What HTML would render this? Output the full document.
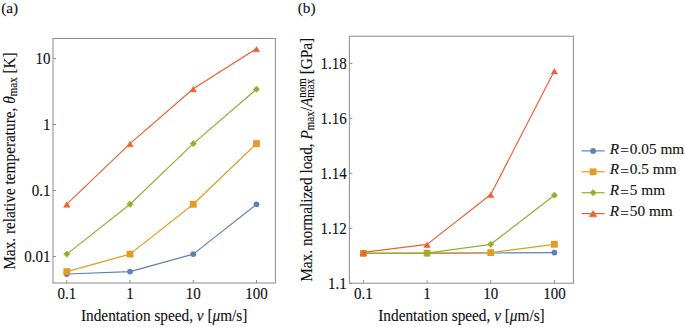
<!DOCTYPE html>
<html><head><meta charset="utf-8"><style>
html,body{margin:0;padding:0;background:#fff;}
svg{display:block;}
.t{font-family:"Liberation Serif",serif;font-size:15px;fill:#111;stroke:#111;stroke-width:0.12px;}
.al{font-family:"Liberation Serif",serif;font-size:15.3px;fill:#111;stroke:#111;stroke-width:0.12px;}
.lg{font-family:"Liberation Serif",serif;font-size:15.3px;fill:#111;stroke:#111;stroke-width:0.12px;}
.ss{font-size:11px;}
</style></head><body>
<svg width="685" height="327" viewBox="0 0 685 327">
<rect x="53" y="38.5" width="222.39999999999998" height="244.5" fill="none" stroke="#8c8c8c" stroke-width="1"/><rect x="349.4" y="36.2" width="224.0" height="247.0" fill="none" stroke="#8c8c8c" stroke-width="1"/><line x1="66.80" y1="283" x2="66.80" y2="280" stroke="#8c8c8c"/><text transform="translate(66.80 299) scale(1 1.08)" text-anchor="middle" class="t">0.1</text><line x1="363.40" y1="283.2" x2="363.40" y2="280.2" stroke="#8c8c8c"/><text transform="translate(363.40 299) scale(1 1.08)" text-anchor="middle" class="t">0.1</text><line x1="130.03" y1="283" x2="130.03" y2="280" stroke="#8c8c8c"/><text transform="translate(130.03 299) scale(1 1.08)" text-anchor="middle" class="t">1</text><line x1="427.07" y1="283.2" x2="427.07" y2="280.2" stroke="#8c8c8c"/><text transform="translate(427.07 299) scale(1 1.08)" text-anchor="middle" class="t">1</text><line x1="193.26" y1="283" x2="193.26" y2="280" stroke="#8c8c8c"/><text transform="translate(193.26 299) scale(1 1.08)" text-anchor="middle" class="t">10</text><line x1="490.74" y1="283.2" x2="490.74" y2="280.2" stroke="#8c8c8c"/><text transform="translate(490.74 299) scale(1 1.08)" text-anchor="middle" class="t">10</text><line x1="256.49" y1="283" x2="256.49" y2="280" stroke="#8c8c8c"/><text transform="translate(256.49 299) scale(1 1.08)" text-anchor="middle" class="t">100</text><line x1="554.41" y1="283.2" x2="554.41" y2="280.2" stroke="#8c8c8c"/><text transform="translate(554.41 299) scale(1 1.08)" text-anchor="middle" class="t">100</text><line x1="53" y1="256.60" x2="56" y2="256.60" stroke="#8c8c8c"/><text transform="translate(50.4 261.95) scale(1 1.08)" text-anchor="end" class="t">0.01</text><line x1="53" y1="190.55" x2="56" y2="190.55" stroke="#8c8c8c"/><text transform="translate(50.4 195.90) scale(1 1.08)" text-anchor="end" class="t">0.1</text><line x1="53" y1="124.50" x2="56" y2="124.50" stroke="#8c8c8c"/><text transform="translate(50.4 129.85) scale(1 1.08)" text-anchor="end" class="t">1</text><line x1="53" y1="58.45" x2="56" y2="58.45" stroke="#8c8c8c"/><text transform="translate(50.4 63.80) scale(1 1.08)" text-anchor="end" class="t">10</text><line x1="349.4" y1="283.35" x2="352.4" y2="283.35" stroke="#8c8c8c"/><text transform="translate(346.79999999999995 288.70) scale(1 1.08)" text-anchor="end" class="t">1.1</text><line x1="349.4" y1="228.35" x2="352.4" y2="228.35" stroke="#8c8c8c"/><text transform="translate(346.79999999999995 233.70) scale(1 1.08)" text-anchor="end" class="t">1.12</text><line x1="349.4" y1="173.35" x2="352.4" y2="173.35" stroke="#8c8c8c"/><text transform="translate(346.79999999999995 178.70) scale(1 1.08)" text-anchor="end" class="t">1.14</text><line x1="349.4" y1="118.35" x2="352.4" y2="118.35" stroke="#8c8c8c"/><text transform="translate(346.79999999999995 123.70) scale(1 1.08)" text-anchor="end" class="t">1.16</text><line x1="349.4" y1="63.35" x2="352.4" y2="63.35" stroke="#8c8c8c"/><text transform="translate(346.79999999999995 68.70) scale(1 1.08)" text-anchor="end" class="t">1.18</text><path d="M66.80 274.00 L130.03 271.60 L193.26 254.10 L256.49 204.30" fill="none" stroke="#5E81B5" stroke-width="1.2" stroke-linejoin="round"/>
<circle cx="66.80" cy="274.00" r="2.9" fill="#5E81B5"/>
<circle cx="130.03" cy="271.60" r="2.9" fill="#5E81B5"/>
<circle cx="193.26" cy="254.10" r="2.9" fill="#5E81B5"/>
<circle cx="256.49" cy="204.30" r="2.9" fill="#5E81B5"/>
<path d="M66.80 271.60 L130.03 254.10 L193.26 204.30 L256.49 143.60" fill="none" stroke="#E19C24" stroke-width="1.2" stroke-linejoin="round"/>
<rect x="63.40" y="268.20" width="6.80" height="6.80" fill="#E19C24"/>
<rect x="126.63" y="250.70" width="6.80" height="6.80" fill="#E19C24"/>
<rect x="189.86" y="200.90" width="6.80" height="6.80" fill="#E19C24"/>
<rect x="253.09" y="140.20" width="6.80" height="6.80" fill="#E19C24"/>
<path d="M66.80 254.10 L130.03 204.30 L193.26 143.60 L256.49 89.20" fill="none" stroke="#8FB032" stroke-width="1.2" stroke-linejoin="round"/>
<path d="M66.80 250.95L69.95 254.10L66.80 257.25L63.65 254.10Z" fill="#8FB032" stroke="#8FB032" stroke-width="0.6" stroke-linejoin="round"/>
<path d="M130.03 201.15L133.18 204.30L130.03 207.45L126.88 204.30Z" fill="#8FB032" stroke="#8FB032" stroke-width="0.6" stroke-linejoin="round"/>
<path d="M193.26 140.45L196.41 143.60L193.26 146.75L190.11 143.60Z" fill="#8FB032" stroke="#8FB032" stroke-width="0.6" stroke-linejoin="round"/>
<path d="M256.49 86.05L259.64 89.20L256.49 92.35L253.34 89.20Z" fill="#8FB032" stroke="#8FB032" stroke-width="0.6" stroke-linejoin="round"/>
<path d="M66.80 204.10 L130.03 143.60 L193.26 88.80 L256.49 48.70" fill="none" stroke="#EB6235" stroke-width="1.2" stroke-linejoin="round"/>
<path d="M66.80 201.80L70.05 207.20L63.55 207.20Z" fill="#EB6235" stroke="#EB6235" stroke-width="0.5" stroke-linejoin="round"/>
<path d="M130.03 141.30L133.28 146.70L126.78 146.70Z" fill="#EB6235" stroke="#EB6235" stroke-width="0.5" stroke-linejoin="round"/>
<path d="M193.26 86.50L196.51 91.90L190.01 91.90Z" fill="#EB6235" stroke="#EB6235" stroke-width="0.5" stroke-linejoin="round"/>
<path d="M256.49 46.40L259.74 51.80L253.24 51.80Z" fill="#EB6235" stroke="#EB6235" stroke-width="0.5" stroke-linejoin="round"/>
<path d="M363.40 253.40 L427.07 253.40 L490.74 253.00 L554.41 252.60" fill="none" stroke="#5E81B5" stroke-width="1.2" stroke-linejoin="round"/>
<circle cx="363.40" cy="253.40" r="2.9" fill="#5E81B5"/>
<circle cx="427.07" cy="253.40" r="2.9" fill="#5E81B5"/>
<circle cx="490.74" cy="253.00" r="2.9" fill="#5E81B5"/>
<circle cx="554.41" cy="252.60" r="2.9" fill="#5E81B5"/>
<path d="M363.40 253.40 L427.07 253.20 L490.74 252.60 L554.41 244.30" fill="none" stroke="#E19C24" stroke-width="1.2" stroke-linejoin="round"/>
<rect x="360.00" y="250.00" width="6.80" height="6.80" fill="#E19C24"/>
<rect x="423.67" y="249.80" width="6.80" height="6.80" fill="#E19C24"/>
<rect x="487.34" y="249.20" width="6.80" height="6.80" fill="#E19C24"/>
<rect x="551.01" y="240.90" width="6.80" height="6.80" fill="#E19C24"/>
<path d="M363.40 253.40 L427.07 253.20 L490.74 244.30 L554.41 195.20" fill="none" stroke="#8FB032" stroke-width="1.2" stroke-linejoin="round"/>
<path d="M363.40 250.25L366.55 253.40L363.40 256.55L360.25 253.40Z" fill="#8FB032" stroke="#8FB032" stroke-width="0.6" stroke-linejoin="round"/>
<path d="M427.07 250.05L430.22 253.20L427.07 256.35L423.92 253.20Z" fill="#8FB032" stroke="#8FB032" stroke-width="0.6" stroke-linejoin="round"/>
<path d="M490.74 241.15L493.89 244.30L490.74 247.45L487.59 244.30Z" fill="#8FB032" stroke="#8FB032" stroke-width="0.6" stroke-linejoin="round"/>
<path d="M554.41 192.05L557.56 195.20L554.41 198.35L551.26 195.20Z" fill="#8FB032" stroke="#8FB032" stroke-width="0.6" stroke-linejoin="round"/>
<path d="M363.40 252.40 L427.07 244.40 L490.74 194.50 L554.41 70.80" fill="none" stroke="#EB6235" stroke-width="1.2" stroke-linejoin="round"/>
<path d="M363.40 250.10L366.65 255.50L360.15 255.50Z" fill="#EB6235" stroke="#EB6235" stroke-width="0.5" stroke-linejoin="round"/>
<path d="M427.07 242.10L430.32 247.50L423.82 247.50Z" fill="#EB6235" stroke="#EB6235" stroke-width="0.5" stroke-linejoin="round"/>
<path d="M490.74 192.20L493.99 197.60L487.49 197.60Z" fill="#EB6235" stroke="#EB6235" stroke-width="0.5" stroke-linejoin="round"/>
<path d="M554.41 68.50L557.66 73.90L551.16 73.90Z" fill="#EB6235" stroke="#EB6235" stroke-width="0.5" stroke-linejoin="round"/>
<text transform="translate(164.2 320.5) scale(1 1.05)" text-anchor="middle" class="al">Indentation speed, <tspan font-style="italic">v</tspan> [<tspan font-style="italic">&#956;</tspan>m/s]</text><text transform="translate(461.5 320.5) scale(1 1.05)" text-anchor="middle" class="al">Indentation speed, <tspan font-style="italic">v</tspan> [<tspan font-style="italic">&#956;</tspan>m/s]</text><text transform="translate(14.6 161.0) rotate(-90) scale(1 1.05)" text-anchor="middle" class="al">Max. relative temperature, <tspan font-style="italic">&#952;</tspan><tspan class="ss" dy="2.2">max</tspan><tspan dy="-2.2"> [K]</tspan></text><text transform="translate(311.5 159.8) rotate(-90) scale(1 1.05)" text-anchor="middle" class="al">Max. normalized load, <tspan font-style="italic">P</tspan><tspan class="ss" dy="2.2">max</tspan><tspan dy="-2.2">/</tspan><tspan font-style="italic">A</tspan><tspan class="ss" dy="-5.6">nom</tspan><tspan class="ss" dx="-19.6" dy="8.2">max</tspan><tspan dy="-2.6" dx="0.7"> [GPa]</tspan></text><text x="1.2" y="13.1" class="al">(a)</text><text x="297.7" y="13.1" class="al">(b)</text><line x1="581.6" y1="150.90" x2="604.7" y2="150.90" stroke="#5E81B5" stroke-width="1.2"/><circle cx="593.10" cy="150.90" r="2.9" fill="#5E81B5"/><text x="609.8" y="153.50" class="lg"><tspan font-style="italic">R</tspan><tspan dx="1" dy="1.4">=</tspan><tspan dx="1" dy="-1.4">0.05 mm</tspan></text><line x1="581.6" y1="171.80" x2="604.7" y2="171.80" stroke="#E19C24" stroke-width="1.2"/><rect x="589.70" y="168.40" width="6.80" height="6.80" fill="#E19C24"/><text x="609.8" y="174.40" class="lg"><tspan font-style="italic">R</tspan><tspan dx="1" dy="1.4">=</tspan><tspan dx="1" dy="-1.4">0.5 mm</tspan></text><line x1="581.6" y1="192.70" x2="604.7" y2="192.70" stroke="#8FB032" stroke-width="1.2"/><path d="M593.10 189.55L596.25 192.70L593.10 195.85L589.95 192.70Z" fill="#8FB032" stroke="#8FB032" stroke-width="0.6" stroke-linejoin="round"/><text x="609.8" y="195.30" class="lg"><tspan font-style="italic">R</tspan><tspan dx="1" dy="1.4">=</tspan><tspan dx="1" dy="-1.4">5 mm</tspan></text><line x1="581.6" y1="213.60" x2="604.7" y2="213.60" stroke="#EB6235" stroke-width="1.2"/><path d="M593.10 210.60L597.00 216.80L589.20 216.80Z" fill="#EB6235" stroke="#EB6235" stroke-width="0.5" stroke-linejoin="round"/><text x="609.8" y="216.20" class="lg"><tspan font-style="italic">R</tspan><tspan dx="1" dy="1.4">=</tspan><tspan dx="1" dy="-1.4">50 mm</tspan></text>
</svg></body></html>
